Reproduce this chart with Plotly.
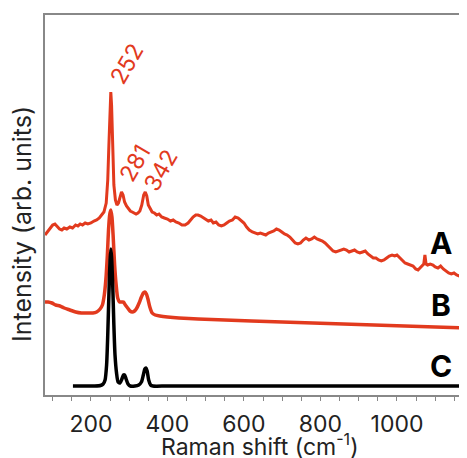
import plotly.graph_objects as go

# Spectrum A (noisy, top) : Raman shift (cm-1), intensity (arb.)
a_x = [80, 86, 93, 100, 106, 112, 118, 124, 130, 137, 145, 152, 160, 166, 172, 178, 185, 192, 200, 208,
       215, 222, 228, 234, 240, 244, 247, 250, 252, 254, 257, 260, 264, 268, 272, 276, 280, 284, 288, 293,
       298, 303, 308, 313, 318, 323, 328, 333, 338, 342, 346, 350, 355, 360, 366, 372, 378, 385, 392, 400,
       408, 415, 422, 430, 438, 446, 454, 460, 467, 474, 480, 487, 494, 500, 507, 514, 520, 527, 534, 541,
       548, 555, 562, 570, 577, 585, 592, 600, 607, 614, 622, 629, 636, 643, 650, 657, 664, 671, 678, 685,
       692, 699, 706, 713, 720, 727, 734, 741, 748, 755, 762, 770, 777, 784, 791, 798, 805, 812, 819, 826,
       833, 840, 847, 854, 861, 868, 875, 882, 889, 896, 903, 910, 917, 924, 931, 938, 945, 952, 959, 966,
       973, 980, 987, 994, 1000, 1007, 1014, 1021, 1028, 1035, 1042, 1049, 1055, 1060, 1066, 1070, 1073,
       1076, 1080, 1087, 1094, 1100, 1107, 1114, 1121, 1128, 1135, 1142, 1149, 1156, 1163, 1170, 1177, 1183]
a_y = [160, 163, 167, 170, 171, 168, 166, 165, 167, 166, 168, 167, 170, 169, 171, 170, 172, 171, 172, 174,
       175, 177, 180, 183, 192, 215, 250, 290, 303, 290, 250, 210, 195, 190, 192, 199, 203, 200, 193, 189,
       186, 184, 183, 182, 181, 182, 184, 190, 200, 203, 199, 190, 186, 183, 182, 180, 181, 178, 177, 176,
       174, 175, 173, 172, 170, 170, 172, 175, 178, 180, 180, 179, 177, 176, 174, 175, 172, 173, 170, 169,
       170, 172, 174, 175, 178, 177, 175, 172, 168, 165, 163, 162, 161, 162, 161, 160, 162, 163, 164, 166,
       165, 163, 161, 160, 158, 155, 152, 151, 152, 155, 157, 155, 156, 158, 156, 155, 154, 152, 149, 146,
       144, 143, 144, 145, 146, 145, 143, 144, 145, 143, 142, 143, 144, 141, 139, 137, 137, 135, 134, 135,
       137, 139, 140, 139, 140, 137, 134, 132, 131, 130, 129, 126, 125, 127, 129, 131, 140,
       131, 130, 131, 130, 128, 127, 129, 126, 124, 122, 121, 122, 120, 119, 120, 121, 122]

# Spectrum B (smooth, middle)
b_x = [80, 88, 98, 108, 119, 130, 145, 160, 175, 190, 205, 215, 224, 230, 235, 239, 243, 246, 249, 252,
       255, 258, 262, 266, 270, 275, 280, 285, 290, 296, 302, 308, 314, 320, 326, 332, 337, 341, 345, 349,
       354, 360, 368, 380, 400, 430, 480, 550, 620, 700, 780, 860, 940, 1020, 1100, 1183]
b_y = [93, 93, 92, 90, 89, 87, 85, 83, 82, 82, 82, 83, 86, 90, 100, 115, 140, 165, 180, 185,
       178, 160, 130, 110, 97, 93, 93, 93, 90, 87, 84, 83, 84, 87, 92, 98, 102, 103, 101, 96,
       88, 82, 80, 79, 78, 77, 76, 75, 74, 73, 72, 71, 70, 69, 68, 67]

# Spectrum C (reference, bottom)
c_x = [153, 180, 210, 225, 232, 237, 241, 244, 247, 250, 252, 254, 257, 260, 263, 267, 271, 276, 281,
       285, 288, 292, 297, 303, 315, 325, 332, 337, 341, 344, 347, 351, 356, 362, 400, 1183]
c_y = [9, 9, 9, 9.5, 11, 15, 30, 60, 100, 135, 146, 138, 110, 70, 40, 22, 13, 12, 16,
       20, 20, 16, 11, 9, 9, 10, 13, 20, 26, 27, 24, 15, 10, 9, 9, 9]

peak_labels = ["252", "281", "342"]
peak_label_x = [294, 315, 383]
peak_label_y = [331, 232, 225]

series_names = ["A", "B", "C"]
series_label_x = [1115, 1115, 1115]
series_label_y = [152, 90, 29]

RED = "#e23a1e"
FONT = "Inter"

fig = go.Figure()
fig.add_trace(go.Scatter(x=b_x, y=b_y, mode="lines", line=dict(color=RED, width=3.5, shape="spline", smoothing=0.6)))
fig.add_trace(go.Scatter(x=a_x, y=a_y, mode="lines", line=dict(color=RED, width=3)))
fig.add_trace(go.Scatter(x=c_x, y=c_y, mode="lines", line=dict(color="black", width=3.5, shape="spline", smoothing=0.6)))

for t, x, y in zip(peak_labels, peak_label_x, peak_label_y):
    fig.add_annotation(x=x, y=y, text=t, showarrow=False, textangle=-60,
                       font=dict(family=FONT, size=23, color=RED))
for t, x, y in zip(series_names, series_label_x, series_label_y):
    fig.add_annotation(x=x, y=y, text="<b>" + t + "</b>", showarrow=False,
                       font=dict(family=FONT, size=30, color="black"))

# axis titles
fig.add_annotation(xref="paper", yref="paper", x=0, y=0.45, xshift=-23, xanchor="center", yanchor="middle",
                   text="Intensity (arb. units)", textangle=-90, showarrow=False,
                   font=dict(family=FONT, size=25, color="#222"))
fig.add_annotation(xref="paper", yref="paper", x=0.509, y=0, yshift=-50, xanchor="center", yanchor="middle",
                   text="Raman shift (cm<sup>-1</sup>)", showarrow=False,
                   font=dict(family=FONT, size=23, color="#222"))

# page body has an 8px margin, so the figure is sized/shifted to compensate
fig.update_layout(
    width=459, height=450,
    margin=dict(l=37, r=0, t=7, b=63),
    paper_bgcolor="white", plot_bgcolor="white",
    showlegend=False,
    font=dict(family=FONT, size=23, color="#222"),
    xaxis=dict(range=[80, 1183], tick0=0, dtick=200, ticks="outside", ticklen=4, tickwidth=1,
               tickcolor="#888", showline=True, linecolor="#888", linewidth=1.5, mirror=True,
               showgrid=False, zeroline=False, ticklabelstandoff=4,
               minor=dict(dtick=50, ticks="outside", ticklen=4, tickcolor="#888", showgrid=False),
               tickfont=dict(family=FONT, size=23, color="#222")),
    yaxis=dict(range=[0, 380], showticklabels=False, ticks="", showline=True, linecolor="#888",
               linewidth=1.5, showgrid=False, zeroline=False),
)

fig.write_html("out.html")
